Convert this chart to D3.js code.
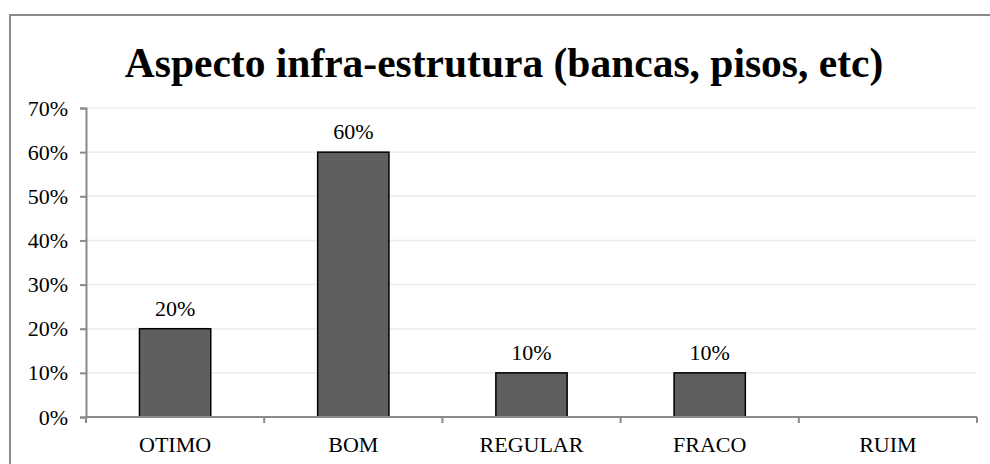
<!DOCTYPE html>
<html>
<head>
<meta charset="utf-8">
<script src="https://cdn.jsdelivr.net/npm/d3@7"></script>
<style>
  html, body { margin: 0; padding: 0; background: #fff; }
  svg { display: block; }
</style>
</head>
<body>
<svg id="chart" width="990" height="464"></svg>
<script>
const title = "Aspecto infra-estrutura (bancas, pisos, etc)";
const categories = ["OTIMO", "BOM", "REGULAR", "FRACO", "RUIM"];
const values = [0.20, 0.60, 0.10, 0.10, 0];
const valueLabels = ["20%", "60%", "10%", "10%", ""];
const yTicks = [0, 0.1, 0.2, 0.3, 0.4, 0.5, 0.6, 0.7];

(function () {
const FONT = "'Liberation Serif', 'Times New Roman', Times, serif";
const svg = d3.select("#chart");
const pL = 86, pR = 977, pT = 108, pB = 417;

svg.append("rect").attr("x", 10).attr("y", 15).attr("width", 1000).attr("height", 500)
  .attr("fill", "#fff").attr("stroke", "#8a8a8a").attr("stroke-width", 2);

svg.append("text").attr("x", 504).attr("y", 77).attr("text-anchor", "middle")
  .style("font-family", FONT).style("font-weight", "bold").style("font-size", "41.5px")
  .attr("fill", "#000").text(title);

const x = d3.scaleBand().domain(categories).range([pL, pR]).paddingInner(0.6).paddingOuter(0.3);
const y = d3.scaleLinear().domain([0, 0.7]).range([pB, pT]);

svg.append("g").selectAll("line").data(yTicks.filter(d => d > 0)).join("line")
  .attr("x1", pL).attr("x2", pR).attr("y1", d => y(d)).attr("y2", d => y(d))
  .attr("stroke", "#ececec").attr("stroke-width", 1.5);

svg.append("g").selectAll("rect").data(categories).join("rect")
  .attr("x", d => x(d)).attr("width", x.bandwidth())
  .attr("y", (d, i) => y(values[i])).attr("height", (d, i) => pB - y(values[i]))
  .attr("fill", "#5f5f5f").attr("stroke", "#000").attr("stroke-width", 1.5)
  .style("display", (d, i) => values[i] > 0 ? null : "none");

svg.append("g").selectAll("text").data(categories).join("text")
  .attr("x", d => x(d) + x.bandwidth() / 2).attr("y", (d, i) => y(values[i]) - 13)
  .attr("text-anchor", "middle").style("font-family", FONT).style("font-size", "22px").attr("fill", "#000")
  .text((d, i) => valueLabels[i]);

const yAxis = d3.axisLeft(y).tickValues(yTicks).tickFormat(d3.format(".0%")).tickSize(6).tickPadding(12);
const gy = svg.append("g").attr("transform", `translate(${pL},0)`).call(yAxis);
gy.select(".domain").attr("stroke", "#8a8a8a").attr("stroke-width", 2);
gy.selectAll(".tick line").attr("stroke", "#8a8a8a").attr("stroke-width", 2);
gy.selectAll(".tick text").style("font-family", FONT).style("font-size", "22px").attr("fill", "#000");

const xEdges = d3.scaleLinear().domain([0, categories.length]).range([pL, pR]);
const gx = svg.append("g").attr("transform", `translate(0,${pB})`);
gx.append("line").attr("x1", pL).attr("x2", pR).attr("stroke", "#8a8a8a").attr("stroke-width", 2);
gx.selectAll(".xt").data(d3.range(categories.length + 1)).join("line").attr("class", "xt")
  .attr("x1", d => xEdges(d)).attr("x2", d => xEdges(d)).attr("y1", 0).attr("y2", 6)
  .attr("stroke", "#8a8a8a").attr("stroke-width", 2);
gx.selectAll("text.cat").data(categories).join("text").attr("class", "cat")
  .attr("x", d => x(d) + x.bandwidth() / 2).attr("y", 35)
  .attr("text-anchor", "middle").style("font-family", FONT).style("font-size", "22px")
  .attr("fill", "#000").text(d => d);
})();
</script>
</body>
</html>
